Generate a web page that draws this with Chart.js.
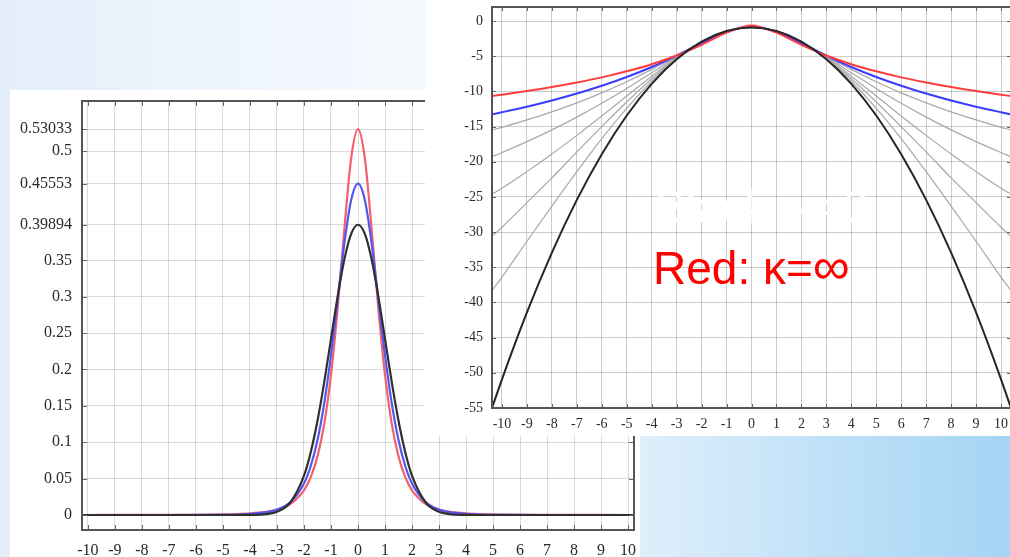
<!DOCTYPE html>
<html>
<head>
<meta charset="utf-8">
<script src="https://cdn.jsdelivr.net/npm/chart.js@4.4.0/dist/chart.umd.min.js"></script>
<style>
  html, body { margin: 0; padding: 0; }
  body { width: 1010px; height: 557px; overflow: hidden; position: relative;
         background: linear-gradient(to right, #e4eefa 0px, #f1f7fd 300px, #f7fbfe 640px); }
  #bgBottom { position: absolute; left: 640px; top: 430px; width: 370px; height: 127px;
              background: linear-gradient(to right, #dfeffb 0%, #bfe1f8 50%, #a5d4f4 100%); }
  #leftBox { position: absolute; left: 10px; top: 90px; width: 630px; height: 467px; background: #fff; }
  #rightBox { position: absolute; left: 425px; top: 0px; width: 600px; height: 436px; background: #fff; }
  canvas { display: block; }
  .note { position: absolute; font-family: "Liberation Sans", Arial, sans-serif; font-size: 46px;
          line-height: 46px; white-space: nowrap; }
</style>
</head>
<body>
<div id="bgBottom"></div>
<div id="leftBox"><canvas id="leftChart" width="630" height="467"></canvas></div>
<div id="rightBox"><canvas id="rightChart" width="600" height="436"></canvas></div>
<div class="note" style="left:655px; top:184px; color:#fff;">Black: κ=0</div>
<div class="note" style="left:653px; top:243px; color:#ff0000;">Red: κ=<span style="font-size:52px">∞</span></div>

<script>
// ---- left chart: densities ----
var xLeft = [-10.2,-9,-8,-7,-6,-5,-4.5,-4,-3.5,-3,-2.5,-2,-1.75,-1.5,-1.25,-1,-0.75,-0.5,-0.25,0,
             0.25,0.5,0.75,1,1.25,1.5,1.75,2,2.5,3,3.5,4,4.5,5,6,7,8,9,10.2];
var redLeft = [0.00003,0.00005,0.00008,0.00016,0.00034,0.00079,0.0013,0.0022,0.0039,0.0075,0.0154,0.0340,0.0520,0.0806,0.1252,0.1925,0.2854,0.3951,0.4911,0.5303,
               0.4911,0.3951,0.2854,0.1925,0.1252,0.0806,0.0520,0.0340,0.0154,0.0075,0.0039,0.0022,0.0013,0.00079,0.00034,0.00016,0.00008,0.00005,0.00003];
var blueLeft = [0,0.00001,0.00001,0.00003,0.0001,0.00035,0.0007,0.0015,0.0032,0.0074,0.0178,0.0434,0.0674,0.1031,0.1535,0.2197,0.2974,0.3748,0.4335,0.4555,
                0.4335,0.3748,0.2974,0.2197,0.1535,0.1031,0.0674,0.0434,0.0178,0.0074,0.0032,0.0015,0.0007,0.00035,0.0001,0.00003,0.00001,0.00001,0];
var blackLeft = [0,0,0,0,0,0,0.00002,0.00013,0.0009,0.0044,0.0175,0.0540,0.0863,0.1295,0.1826,0.2420,0.3011,0.3521,0.3867,0.3989,
                 0.3867,0.3521,0.3011,0.2420,0.1826,0.1295,0.0863,0.0540,0.0175,0.0044,0.0009,0.00013,0.00002,0,0,0,0,0,0];
var leftYTicks = [0,0.05,0.1,0.15,0.2,0.25,0.3,0.35,0.39894,0.45553,0.5,0.53033];
var leftYLabels = ["0","0.05","0.1","0.15","0.2","0.25","0.3","0.35","0.39894","0.45553","0.5","0.53033"];

// ---- right chart: log densities ----
var xRight = [-10.4,-10,-9,-8,-7,-6,-5,-4,-3,-2,-1,0,1,2,3,4,5,6,7,8,9,10,10.4];
var redRight = [-10.66,-10.46,-9.95,-9.38,-8.73,-8.00,-7.14,-6.13,-4.90,-3.38,-1.65,-0.63,-1.65,-3.38,-4.90,-6.13,-7.14,-8.00,-8.73,-9.38,-9.95,-10.46,-10.66];
var blueRight = [-13.26,-12.96,-12.17,-11.29,-10.30,-9.20,-7.95,-6.53,-4.90,-3.14,-1.52,-0.79,-1.52,-3.14,-4.90,-6.53,-7.95,-9.20,-10.30,-11.29,-12.17,-12.96,-13.26];
var gray1Right = [-15.45,-15.10,-14.05,-12.90,-11.62,-10.20,-8.62,-6.87,-4.98,-3.06,-1.48,-0.83,-1.48,-3.06,-4.98,-6.87,-8.62,-10.20,-11.62,-12.90,-14.05,-15.10,-15.45];
var gray2Right = [-19.28,-18.69,-17.14,-15.47,-13.65,-11.69,-9.58,-7.35,-5.09,-3.00,-1.45,-0.87,-1.45,-3.00,-5.09,-7.35,-9.58,-11.69,-13.65,-15.47,-17.14,-18.69,-19.28];
var gray3Right = [-24.6,-23.77,-21.40,-18.90,-16.25,-13.49,-10.66,-7.84,-5.20,-2.97,-1.44,-0.89,-1.44,-2.97,-5.20,-7.84,-10.66,-13.49,-16.25,-18.90,-21.40,-23.77,-24.6];
var gray4Right = [-30.6,-29.3,-25.8,-22.3,-18.6,-15.0,-11.5,-8.2,-5.27,-2.94,-1.43,-0.90,-1.43,-2.94,-5.27,-8.2,-11.5,-15.0,-18.6,-22.3,-25.8,-29.3,-30.6];
var gray5Right = [-38.3,-36.4,-31.3,-26.3,-21.4,-16.7,-12.4,-8.55,-5.35,-2.93,-1.42,-0.91,-1.42,-2.93,-5.35,-8.55,-12.4,-16.7,-21.4,-26.3,-31.3,-36.4,-38.3];
var blackRight = [-55.0,-50.92,-41.42,-32.92,-25.42,-18.92,-13.42,-8.92,-5.42,-2.92,-1.42,-0.92,-1.42,-2.92,-5.42,-8.92,-13.42,-18.92,-25.42,-32.92,-41.42,-50.92,-55.0];
var rightYTicks = [-55,-50,-45,-40,-35,-30,-25,-20,-15,-10,-5,0];

var xTicks = [-10,-9,-8,-7,-6,-5,-4,-3,-2,-1,0,1,2,3,4,5,6,7,8,9,10];

function pts(xs, ys) {
	return xs.map(function (x, i) { return { x: x, y: ys[i] }; });
}

function line(data, color, width) {
	return {
		data: data,
		borderColor: color,
		borderWidth: width,
		pointRadius: 0,
		fill: false,
		cubicInterpolationMode: "monotone"
	};
}

// gnuplot style frame with inner tick marks
var framePlugin = {
	id: "frame",
	afterDraw: function (chart, args, opts) {
		var c = chart.ctx, a = chart.chartArea;
		var xs = chart.scales.x, ys = chart.scales.y;
		c.save();
		c.strokeStyle = opts.tickColor;
		c.lineWidth = 1;
		c.beginPath();
		xs.ticks.forEach(function (t) {
			var px = Math.round(xs.getPixelForValue(t.value)) + 0.5;
			c.moveTo(px, a.bottom); c.lineTo(px, a.bottom - opts.len);
			c.moveTo(px, a.top); c.lineTo(px, a.top + opts.len);
		});
		ys.ticks.forEach(function (t) {
			var py = Math.round(ys.getPixelForValue(t.value)) + 0.5;
			c.moveTo(a.left, py); c.lineTo(a.left + opts.len, py);
			c.moveTo(a.right, py); c.lineTo(a.right - opts.len, py);
		});
		c.stroke();
		c.strokeStyle = opts.color;
		c.lineWidth = opts.width;
		c.strokeRect(a.left, a.top, a.right - a.left, a.bottom - a.top);
		c.restore();
	}
};

function axes(o) {
	return {
		x: {
			type: "linear", min: o.xmin, max: o.xmax,
			afterBuildTicks: function (s) { s.ticks = xTicks.map(function (v) { return { value: v }; }); },
			afterFit: function (s) { s.height = o.xh; s.paddingLeft = 0; s.paddingRight = 0; },
			ticks: { autoSkip: false, maxRotation: 0, padding: o.xpad, color: "#2a2a2a",
			         font: { family: "Liberation Serif", size: o.fs },
			         callback: function (v) { return String(v); } },
			grid: { color: o.grid, drawTicks: false },
			border: { display: false }
		},
		y: {
			type: "linear", min: o.ymin, max: o.ymax,
			afterBuildTicks: function (s) { s.ticks = o.yticks.map(function (v) { return { value: v }; }); },
			afterFit: function (s) { s.width = o.yw; s.paddingTop = 0; s.paddingBottom = 0; },
			ticks: { autoSkip: false, padding: o.ypad, color: "#2a2a2a",
			         font: { family: "Liberation Serif", size: o.fs },
			         callback: o.ylabel },
			grid: { color: o.grid, drawTicks: false },
			border: { display: false }
		}
	};
}

new Chart(document.getElementById("leftChart"), {
	type: "line",
	data: {
		datasets: [
			line(pts(xLeft, blackLeft), "#303030", 2.2),
			line(pts(xLeft, blueLeft), "#5555f0", 2.2),
			line(pts(xLeft, redLeft), "#f06070", 2.2)
		]
	},
	options: {
		responsive: false, animation: false, devicePixelRatio: 1,
		layout: { padding: { left: 0, top: 11, right: 6, bottom: 0 } },
		plugins: { legend: { display: false }, tooltip: { enabled: false },
		           frame: { color: "#555", width: 2, tickColor: "#666", len: 5 } },
		scales: axes({
			xmin: -10.22, xmax: 10.22, ymin: -0.0206, ymax: 0.569,
			xh: 27, yw: 72, xpad: 11, ypad: 10, fs: 16,
			grid: "rgba(0,0,0,0.14)", yticks: leftYTicks,
			ylabel: function (v, i) { return leftYLabels[i]; }
		})
	},
	plugins: [framePlugin]
});

new Chart(document.getElementById("rightChart"), {
	type: "line",
	data: {
		datasets: [
			line(pts(xRight, blackRight), "#262626", 2),
			line(pts(xRight, redRight), "#ff3c3c", 2),
			line(pts(xRight, blueRight), "#3c3cff", 2),
			line(pts(xRight, gray1Right), "#a8a8a8", 1.2),
			line(pts(xRight, gray2Right), "#a8a8a8", 1.2),
			line(pts(xRight, gray3Right), "#a8a8a8", 1.2),
			line(pts(xRight, gray4Right), "#a8a8a8", 1.2),
			line(pts(xRight, gray5Right), "#a8a8a8", 1.2)
		]
	},
	options: {
		responsive: false, animation: false, devicePixelRatio: 1,
		layout: { padding: { left: 0, top: 7, right: 14, bottom: 0 } },
		plugins: { legend: { display: false }, tooltip: { enabled: false },
		           frame: { color: "#555", width: 2, tickColor: "#666", len: 4 } },
		scales: axes({
			xmin: -10.4, xmax: 10.4, ymin: -55, ymax: 2,
			xh: 28, yw: 67, xpad: 8, ypad: 9, fs: 14,
			grid: "rgba(0,0,0,0.2)", yticks: rightYTicks,
			ylabel: function (v) { return String(v); }
		})
	},
	plugins: [framePlugin]
});
</script>
</body>
</html>
